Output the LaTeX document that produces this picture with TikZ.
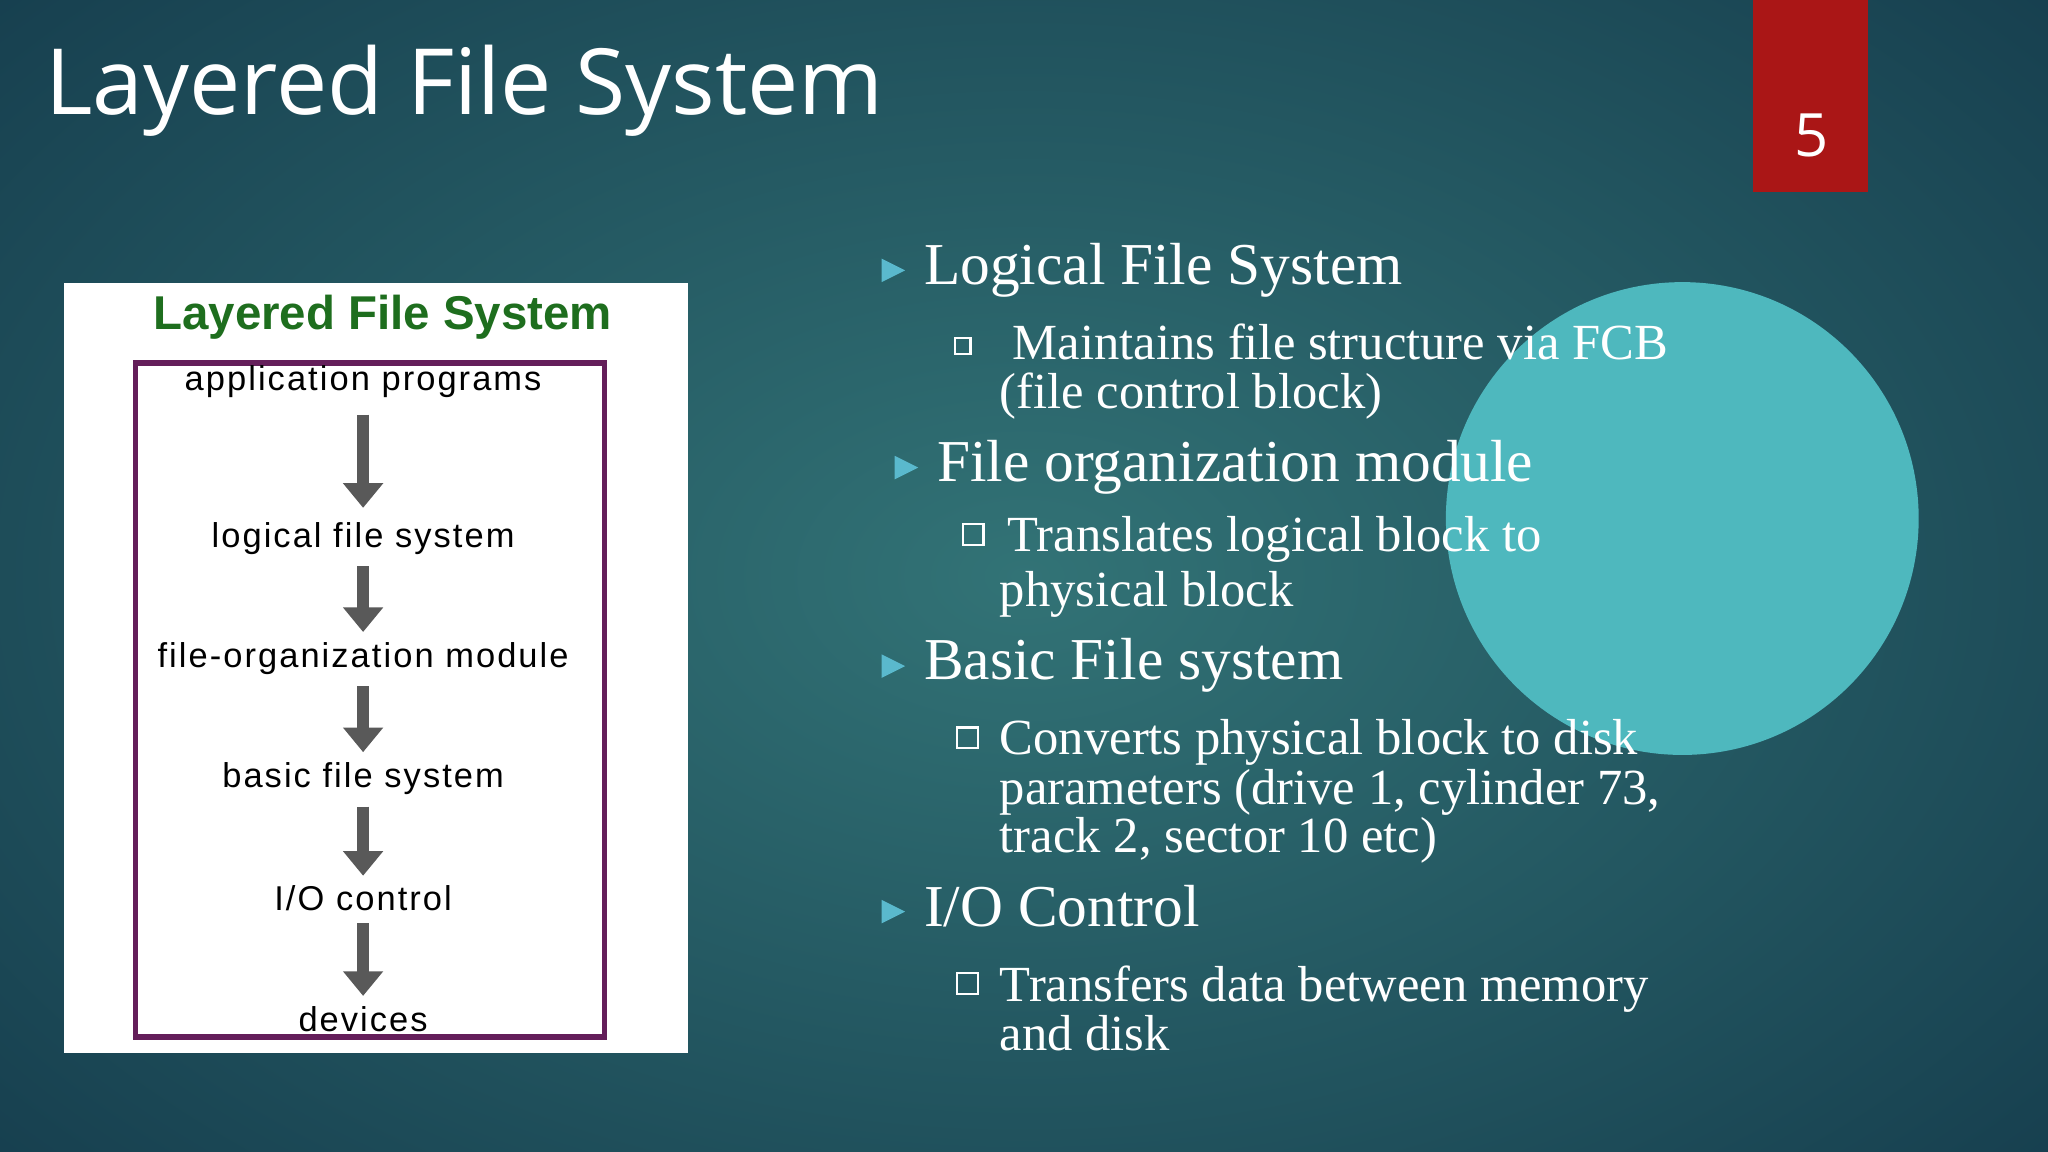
\documentclass[tikz,border=0pt]{standalone}
\usepackage{fontspec}
\setmainfont{Liberation Serif}
\newfontfamily\osans{Open Sans}
\newfontfamily\lsans[LetterSpace=6]{Liberation Sans}
\newfontfamily\gsans{Liberation Sans}
\definecolor{bgin}{RGB}{50,115,118}
\definecolor{bgout}{RGB}{22,62,78}
\definecolor{redbox}{RGB}{170,22,22}
\definecolor{circ}{RGB}{78,184,190}
\definecolor{tri}{RGB}{90,185,205}
\definecolor{grn}{RGB}{30,110,30}
\definecolor{purp}{RGB}{100,30,90}
\tikzset{
 x=0.013061cm, y=-0.013061cm,
 head/.style={font=\fontsize{16.9pt}{17pt}\selectfont, text=white, anchor=base west, inner sep=0},
 sub/.style={font=\fontsize{14.4pt}{15pt}\selectfont, text=white, anchor=base west, inner sep=0},
 lbl/.style={font=\lsans\fontsize{9.8pt}{10pt}\selectfont, text=black, inner sep=1pt},
 tribul/.style={fill=tri},
 sq/.style={draw=white, line width=0.6pt},
 darr/.style={-{Triangle[width=11pt,length=7pt]}, line width=3.5pt, draw=gray!70!black}
}
\usetikzlibrary{arrows.meta}
\begin{document}
\begin{tikzpicture}
\useasboundingbox (0,0) rectangle (1568,882);
\shade[inner color=bgin, outer color=bgout] (-300,-250) rectangle (1868,1132);
\fill[redbox] (1342,0) rectangle (1430,147);
\node[font=\osans\fontsize{17pt}{18pt}\selectfont, text=white] (num) at (1387,104) {5};
\fill[circ] (1288,397) circle (181);
\node[font=\osans\fontsize{26pt}{28pt}\selectfont, text=white, anchor=base west, inner sep=0] (title) at (34,88) {Layered File System};
% left image
\fill[white] (49,217) rectangle (527,806);
\draw[purp, line width=1.5pt] (104,278) rectangle (463,794);
\node[font=\gsans\bfseries\fontsize{13.5pt}{14pt}\selectfont, text=grn] (ltitle) at (293,243) {Layered File System};
\node[lbl] (a) at (278,292) {application programs};
\node[lbl] (b) at (278,412) {logical file system};
\node[lbl] (c) at (278,504) {file-organization module};
\node[lbl] (d) at (278,596) {basic file system};
\node[lbl] (e) at (278,688) {I/O control};
\node[lbl] (f) at (278,780) {devices};
\draw[darr] (a.south) ++(0,10) -- ([yshift=0.1cm]b.north);
\draw[darr] (b.south) ++(0,6) -- ([yshift=0.06cm]c.north);
\draw[darr] (c.south) ++(0,6) -- ([yshift=0.06cm]d.north);
\draw[darr] (d.south) ++(0,6) -- ([yshift=0.06cm]e.north);
\draw[darr] (e.south) ++(0,6) -- ([yshift=0.06cm]f.north);
% right text
\fill[tribul] (675,198) -- (693,207) -- (675,216) -- cycle;
\node[head] (h1) at (707,218) {Logical File System};
\draw[sq] (731,259) rectangle (743,271);
\node[sub] (s1a) at (775,275) {Maintains file structure via FCB};
\node[sub] (s1b) at (765,313) {(file control block)};
\fill[tribul] (685,349) -- (703,358) -- (685,367) -- cycle;
\node[head] (h2) at (717,369) {File organization module};
\draw[sq] (737,401) rectangle (753,417);
\node[sub] (s2a) at (771,422) {Translates logical block to};
\node[sub] (s2b) at (765,464) {physical block};
\fill[tribul] (675,501) -- (693,510) -- (675,519) -- cycle;
\node[head] (h3) at (707,520) {Basic File system};
\draw[sq] (733,557) rectangle (749,573);
\node[sub] (s3a) at (765,578) {Converts physical block to disk};
\node[sub] (s3b) at (765,616) {parameters (drive 1, cylinder 73,};
\node[sub] (s3c) at (765,653) {track 2, sector 10 etc)};
\fill[tribul] (675,689) -- (693,698) -- (675,707) -- cycle;
\node[head] (h4) at (707,709) {I/O Control};
\draw[sq] (733,745) rectangle (749,761);
\node[sub] (s4a) at (765,767) {Transfers data between memory};
\node[sub] (s4b) at (765,804) {and disk};
\end{tikzpicture}
\end{document}
